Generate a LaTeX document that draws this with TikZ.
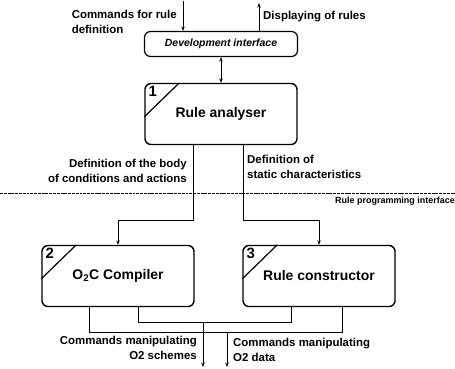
\documentclass[tikz,border=0pt]{standalone}
\usepackage{fontspec}
\setmainfont{Liberation Sans}
\usetikzlibrary{arrows.meta,calc}
\begin{document}
\begin{tikzpicture}[
    x=1bp, y=-1bp,
    % Boites des modules
    module/.style={draw, line width=1.4pt, rounded corners=6pt,
        minimum width=152bp, minimum height=61bp,
        font=\fontsize{14}{16}\selectfont\bfseries},
    interf/.style={draw, line width=1.2pt, rounded corners=6pt,
        minimum width=153bp, minimum height=25bp,
        font=\fontsize{10.5}{12}\selectfont\bfseries\itshape},
    numero/.style={anchor=north west, inner sep=0pt,
        font=\fontsize{15}{15}\selectfont\bfseries},
    legende/.style={inner sep=0pt, font=\fontsize{11.5}{15}\selectfont\bfseries},
    fleche/.style={line width=1pt, -{Stealth[length=4.5pt,width=3.5pt]}},
    lien/.style={line width=1pt}
]
\useasboundingbox (0,0) rectangle (455,368);
% Interface de developpement et modules
\node[interf] (dev) at (221,44) {Development interface};
\node[module] (ra) at (221,114) {Rule analyser};
\node[module] (cc) at (118,276) {O\textsubscript{2}C Compiler};
\node[module] (rc) at (319,276) {Rule constructor};
% Numeros dans les coins
\foreach \m/\n in {ra/1, cc/2, rc/3} {
    \draw[line width=1.2pt] ($(\m.north west)+(0,34)$) -- ($(\m.north west)+(35,0)$);
    \node[numero] at ($(\m.north west)+(4,3)$) {\n};
}
% Entrees et sorties en haut
\coordinate (cmdin) at (183,1);
\coordinate (dispout) at (259,3);
\draw[fleche] (cmdin) -- (cmdin |- dev.north);
\draw[fleche] (dispout |- dev.north) -- (dispout);
\node[legende, anchor=north east, align=left] at (177,10) {Commands for rule\\definition};
\node[legende, anchor=west] at (263,17) {Displaying of rules};
\draw[line width=1pt, {Stealth[length=4.5pt,width=3.5pt]}-{Stealth[length=4.5pt,width=3.5pt]}] (dev.south) -- (ra.north);
% Vers le compilateur et le constructeur
\coordinate (gauche) at (193,220);
\coordinate (droite) at (243,220);
\draw[fleche] (ra.south -| gauche) -- (gauche) -| (cc.north);
\draw[fleche] (ra.south -| droite) -- (droite) -| (rc.north);
\node[legende, anchor=south east, align=right] at (187,183) {Definition of the body\\of conditions and actions};
\node[legende, anchor=south west, align=left] at (247,179) {Definition of\\static characteristics};
% Interface de programmation
\coordinate (ligneg) at (0,193);
\coordinate (ligned) at (455,193);
\draw[line width=0.7pt, dash pattern=on 3pt off 0.8pt] (ligneg) -- (ligned);
\node[inner sep=0pt, anchor=north east, font=\fontsize{9}{10}\selectfont\bfseries] at (455,197) {Rule programming interface};
% Bus vers O2
\coordinate (bushaut) at (203,322);
\coordinate (busbas) at (227,332);
\draw[lien] (cc.south -| 138,0) |- (bushaut) -| (rc.south -| 291,0);
\draw[lien] (cc.south -| 89,0) |- (busbas) -| (rc.south -| 342,0);
\coordinate (schemes) at (203,367);
\coordinate (data) at (227,367);
\draw[fleche] (bushaut) -- (schemes);
\draw[fleche] (busbas) -- (data);
\node[legende, anchor=north east, align=right] at (197,336) {Commands manipulating\\O2 schemes};
\node[legende, anchor=north west, align=left] at (233,338) {Commands manipulating\\O2 data};
\end{tikzpicture}
\end{document}
